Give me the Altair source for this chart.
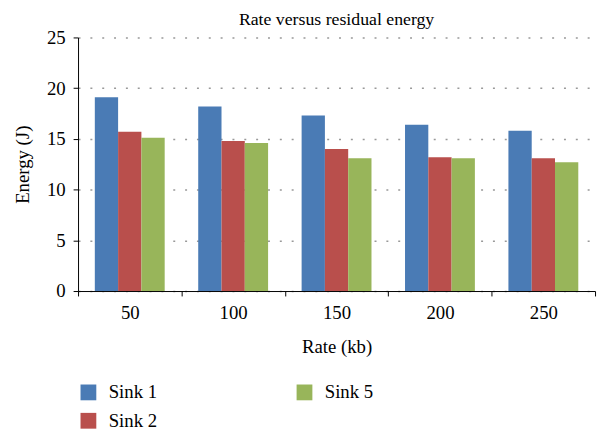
import altair as alt
import pandas as pd

rates = ["50", "100", "150", "200", "250"]
sinks = ["Sink 1", "Sink 2", "Sink 5"]
sink1 = [19.1, 18.2, 17.3, 16.4, 15.8]
sink2 = [15.7, 14.8, 14.0, 13.2, 13.1]
sink5 = [15.1, 14.6, 13.1, 13.1, 12.7]
colors = ["#4A7BB5", "#B94F4C", "#98B55A"]

rows = []
for s, vals in zip(sinks, [sink1, sink2, sink5]):
    for r, v in zip(rates, vals):
        rows.append({"rate": r, "sink": s, "energy": v})
df = pd.DataFrame(rows)

FONT = "Liberation Serif"

chart = alt.Chart(df).mark_bar().encode(
    x=alt.X("rate:N", sort=rates, title="Rate (kb)",
            scale=alt.Scale(paddingInner=0, paddingOuter=0),
            axis=alt.Axis(labelAngle=0, tickBand="extent", tickSize=5,
                          domainColor="black", tickColor="black",
                          labelFontSize=19, titleFontSize=19, labelPadding=8,
                          titlePadding=15, titleFontWeight="normal",
                          labelColor="black", titleColor="black")),
    xOffset=alt.XOffset("sink:N", sort=sinks,
                        scale=alt.Scale(paddingInner=0, paddingOuter=0.72)),
    y=alt.Y("energy:Q", title="Energy (J)",
            scale=alt.Scale(domain=[0, 25], nice=False),
            axis=alt.Axis(values=[0, 5, 10, 15, 20, 25], grid=True,
                          gridDash=[2, 10], gridColor="#999999", gridWidth=1.5,
                          domainColor="black", tickColor="black", tickSize=5,
                          labelFontSize=19, titleFontSize=19, labelPadding=8,
                          titlePadding=14, titleFontWeight="normal",
                          labelColor="black", titleColor="black")),
    color=alt.Color("sink:N", sort=sinks,
                    scale=alt.Scale(domain=sinks, range=colors),
                    legend=alt.Legend(title=None, orient="none", legendX=1, legendY=350,
                                      direction="horizontal", columns=2,
                                      values=["Sink 1", "Sink 5", "Sink 2"],
                                      symbolType="square", symbolSize=256,
                                      symbolStrokeWidth=0, labelFontSize=19,
                                      labelOffset=11, columnPadding=139,
                                      rowPadding=9, labelColor="black")),
).properties(
    width=524, height=257,
    title=alt.Title("Rate versus residual energy", fontSize=18, fontWeight="normal",
                    color="black", offset=0, anchor="middle", frame="group"),
    autosize=alt.AutoSizeParams(type="none"),
    padding={"left": 71, "top": 27, "right": 4, "bottom": 138},
).configure(font=FONT).configure_view(stroke=None)

chart.save("out.html", embed_options={"renderer": "svg", "actions": False})
